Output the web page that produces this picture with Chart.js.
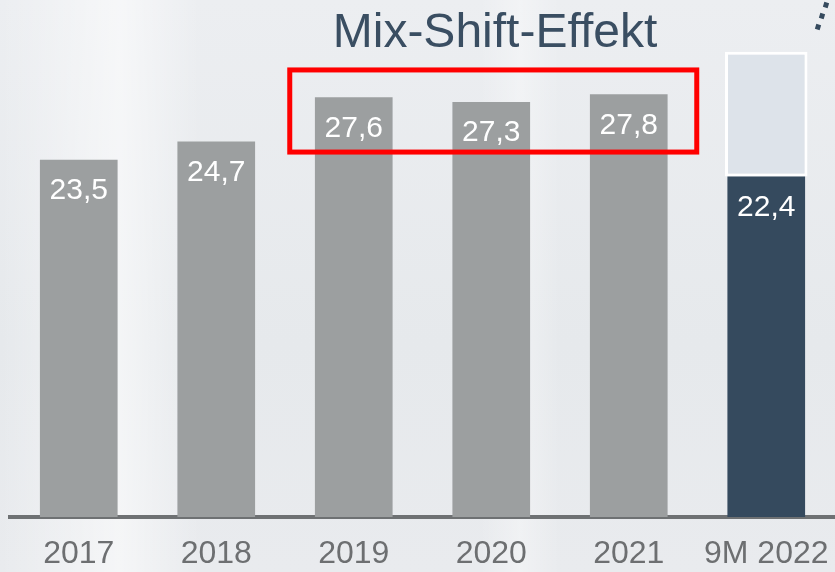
<!DOCTYPE html>
<html>
<head>
<meta charset="utf-8">
<script src="https://cdn.jsdelivr.net/npm/chart.js@4/dist/chart.umd.min.js"></script>
<style>
  html, body { margin: 0; padding: 0; overflow: hidden; }
  body {
    width: 835px; height: 572px;
    background:
      linear-gradient(90deg, rgba(255,255,255,0) 0px, rgba(255,255,255,0.55) 120px, rgba(255,255,255,0) 200px),
      linear-gradient(90deg, rgba(255,255,255,0) 480px, rgba(255,255,255,0.35) 520px, rgba(255,255,255,0) 560px),
      linear-gradient(180deg, #eceef1 0%, #e6e9ec 60%, #e9ebee 100%);
  }
  #wrap { position: relative; width: 835px; height: 572px; }
  #title {
    position: absolute; left: 0; top: 3px; width: 990px; text-align: center;
    font: 48px "Liberation Sans", Arial, sans-serif; color: #3a4e62;
  }
</style>
</head>
<body>
<div id="wrap">
  <canvas id="mixChart" width="835" height="572"></canvas>
  <div id="title">Mix-Shift-Effekt</div>
</div>
<script>
const years = ['2017', '2018', '2019', '2020', '2021', '9M 2022'];
const values = [23.5, 24.7, 27.6, 27.3, 27.8, 22.4];
const outlook = [null, null, null, null, null, 8.2];
const barColors = ['#9c9fa0', '#9c9fa0', '#9c9fa0', '#9c9fa0', '#9c9fa0', '#354a5e'];

const fmt = v => v.toFixed(1).replace('.', ',');

// white numbers inside the bars + red box round 2019-2021
const labelPlugin = {
  id: 'labels',
  afterDatasetsDraw(chart) {
    const ctx = chart.ctx;
    const meta = chart.getDatasetMeta(0);
    ctx.save();
    ctx.fillStyle = '#ffffff';
    ctx.font = '30px "Liberation Sans", Arial, sans-serif';
    ctx.textAlign = 'center';
    ctx.textBaseline = 'middle';
    meta.data.forEach((bar, i) => {
      ctx.fillText(fmt(values[i]), bar.x, bar.y + 31);
    });

    const x = chart.scales.x, y = chart.scales.y;
    const left = x.getPixelForValue(2) - 64;
    const right = x.getPixelForValue(4) + 68;
    const top = y.getPixelForValue(29.4);
    const bottom = y.getPixelForValue(24.0);
    ctx.strokeStyle = '#ff0000';
    ctx.lineWidth = 5;
    ctx.strokeRect(left, top, right - left, bottom - top);

    // dotted arrow tail, top right
    ctx.fillStyle = '#354a5e';
    [[826, 5], [822, 16], [818, 27]].forEach(p => {
      ctx.save();
      ctx.translate(p[0], p[1]);
      ctx.rotate(0.3);
      ctx.fillRect(-2.5, -2.5, 5, 5);
      ctx.restore();
    });
    ctx.restore();
  }
};

const chart = new Chart(document.getElementById('mixChart'), {
  type: 'bar',
  data: {
    labels: years,
    datasets: [
      {
        data: values,
        backgroundColor: barColors,
        borderWidth: 0,
        barPercentage: 0.565,
        categoryPercentage: 1,
        stack: 's',
      },
      {
        data: outlook,
        backgroundColor: '#dde3ea',
        borderColor: '#ffffff',
        borderWidth: 3,
        borderSkipped: false,
        barPercentage: 0.6,
        categoryPercentage: 1,
        stack: 's',
      },
    ],
  },
  options: {
    responsive: false,
    devicePixelRatio: 1,
    animation: false,
    layout: { padding: { left: 10, right: -3, top: 0, bottom: 0 } },
    plugins: { legend: { display: false }, tooltip: { enabled: false } },
    scales: {
      x: {
        stacked: true,
        grid: { display: false, drawTicks: false },
        border: { display: true, color: '#6e7173', width: 4 },
        ticks: {
          color: '#6d6f71',
          font: { family: '"Liberation Sans", Arial, sans-serif', size: 32 },
          padding: 18,
          maxRotation: 0,
          autoSkip: false,
        },
        afterFit(scale) {
          scale.height = 55;
          scale.paddingLeft = 0;
          scale.paddingRight = 0;
        },
      },
      y: {
        stacked: true,
        display: false,
        min: 0,
        max: 34,
      },
    },
  },
  plugins: [labelPlugin],
});
</script>
</body>
</html>
